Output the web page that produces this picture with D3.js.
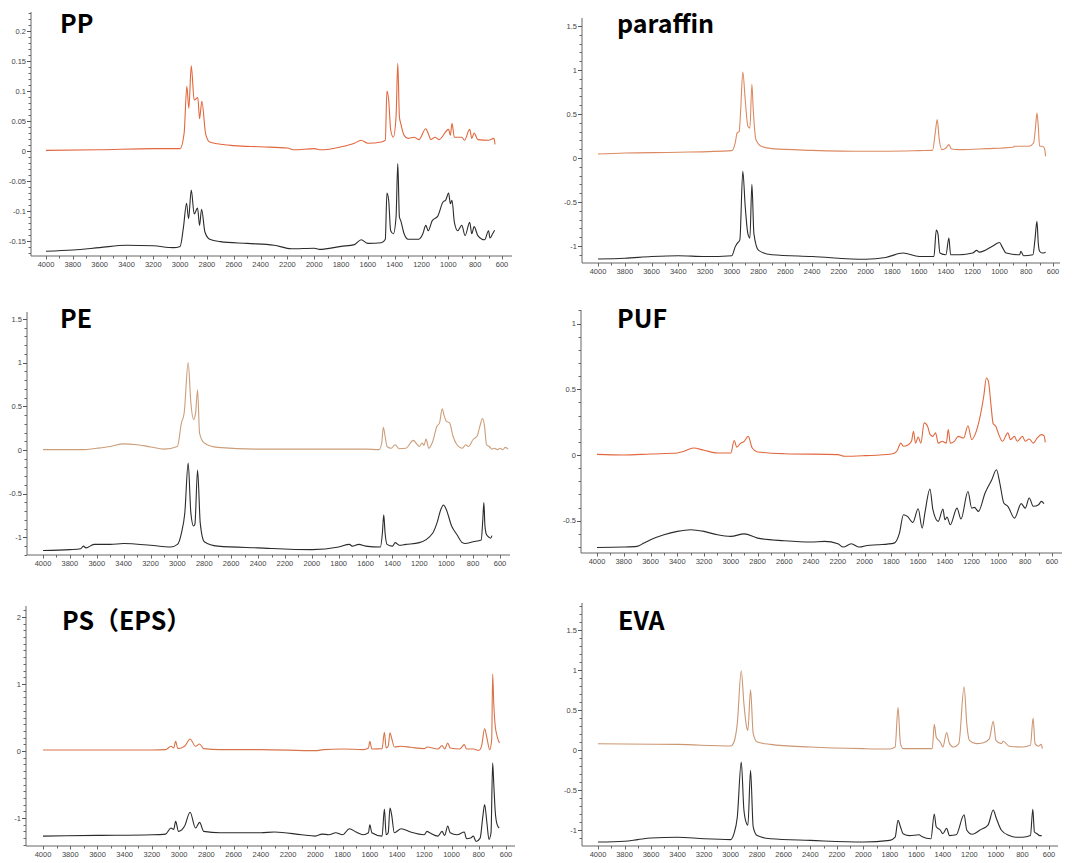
<!DOCTYPE html>
<html>
<head>
<meta charset="utf-8">
<script src="https://cdn.jsdelivr.net/npm/d3@7"></script>
<style>
  body { margin: 0; background: #fff; }
  svg { display: block; }
  .tick-label { font-family: "Liberation Sans", Arial, sans-serif; font-size: 7.5px; fill: #444; }
  .title { font-family: "Noto Sans CJK SC", "Noto Sans", sans-serif; font-weight: bold; font-size: 25px; fill: #000; }
</style>
</head>
<body>
<svg id="chart" width="1084" height="863"></svg>
<script>
// spectra: [wavenumber cm-1, absorbance]
var ppRef = [[4000,0.001],[3600,0.002],[3200,0.004],[3000,0.004],[2970,0.03],[2950,0.108],[2935,0.071],[2917,0.142],[2895,0.085],[2868,0.089],[2855,0.054],[2838,0.083],[2810,0.029],[2780,0.015],[2720,0.012],[2600,0.009],[2400,0.007],[2200,0.005],[2150,0.002],[2000,0.004],[1950,0.002],[1800,0.007],[1700,0.013],[1650,0.018],[1600,0.013],[1500,0.015],[1470,0.018],[1458,0.100],[1445,0.085],[1430,0.035],[1410,0.023],[1390,0.057],[1377,0.146],[1365,0.057],[1355,0.046],[1330,0.026],[1300,0.021],[1255,0.023],[1220,0.019],[1168,0.037],[1150,0.029],[1130,0.019],[1100,0.023],[1070,0.019],[998,0.036],[985,0.026],[973,0.046],[955,0.023],[900,0.023],[880,0.018],[841,0.036],[825,0.021],[808,0.030],[780,0.019],[700,0.018],[660,0.021],[652,0.011]];
var ppSample = [[4000,-0.167],[3800,-0.165],[3600,-0.161],[3400,-0.157],[3200,-0.158],[3050,-0.161],[3000,-0.159],[2975,-0.127],[2952,-0.087],[2937,-0.113],[2917,-0.065],[2895,-0.105],[2870,-0.095],[2855,-0.124],[2840,-0.097],[2815,-0.135],[2780,-0.147],[2700,-0.151],[2500,-0.154],[2300,-0.157],[2170,-0.163],[2000,-0.162],[1960,-0.164],[1800,-0.159],[1700,-0.156],[1650,-0.148],[1600,-0.154],[1500,-0.153],[1470,-0.147],[1458,-0.070],[1445,-0.082],[1430,-0.133],[1410,-0.138],[1390,-0.110],[1377,-0.021],[1365,-0.110],[1355,-0.116],[1330,-0.138],[1300,-0.147],[1260,-0.147],[1220,-0.147],[1190,-0.138],[1168,-0.124],[1150,-0.133],[1120,-0.116],[1080,-0.109],[1040,-0.085],[1020,-0.082],[998,-0.070],[985,-0.088],[973,-0.082],[955,-0.119],[930,-0.133],[900,-0.124],[875,-0.141],[841,-0.119],[825,-0.138],[808,-0.126],[780,-0.141],[730,-0.148],[700,-0.133],[690,-0.145],[670,-0.138],[655,-0.132]];

var paraffinRef = [[4000,0.046],[3800,0.057],[3400,0.065],[3000,0.084],[2975,0.17],[2960,0.285],[2945,0.30],[2935,0.51],[2918,0.977],[2900,0.665],[2880,0.36],[2865,0.34],[2850,0.837],[2840,0.55],[2820,0.21],[2780,0.133],[2700,0.106],[2400,0.087],[2000,0.076],[1600,0.084],[1500,0.087],[1480,0.285],[1465,0.437],[1450,0.21],[1430,0.095],[1400,0.114],[1377,0.152],[1360,0.103],[1300,0.095],[1100,0.106],[900,0.122],[890,0.133],[780,0.133],[745,0.171],[730,0.36],[720,0.51],[710,0.36],[700,0.133],[680,0.133],[665,0.114],[655,0.019]];
var paraffinSample = [[4000,-1.148],[3800,-1.14],[3600,-1.12],[3400,-1.11],[3200,-1.12],[3000,-1.11],[2975,-1.01],[2960,-0.97],[2940,-0.93],[2918,-0.15],[2900,-0.55],[2880,-0.86],[2865,-0.91],[2850,-0.30],[2835,-0.86],[2800,-1.05],[2700,-1.10],[2400,-1.12],[2000,-1.15],[1850,-1.13],[1720,-1.08],[1600,-1.12],[1490,-1.12],[1472,-0.82],[1460,-0.86],[1445,-1.08],[1400,-1.10],[1378,-0.91],[1365,-1.10],[1300,-1.10],[1200,-1.08],[1170,-1.05],[1150,-1.07],[1050,-1.00],[1000,-0.96],[980,-1.01],[950,-1.08],[850,-1.10],[840,-1.06],[820,-1.11],[750,-1.10],[735,-0.93],[720,-0.72],[710,-0.97],[700,-1.06],[680,-1.08],[655,-1.07]];

var peRef = [[4000,0.004],[3700,0.004],[3600,0.02],[3500,0.04],[3400,0.07],[3300,0.06],[3200,0.035],[3100,0.01],[3000,0.04],[2970,0.31],[2950,0.42],[2920,1.0],[2900,0.54],[2880,0.35],[2865,0.42],[2850,0.69],[2835,0.19],[2800,0.08],[2700,0.03],[2400,0.01],[1900,0.01],[1600,0.01],[1500,0.004],[1480,0.08],[1468,0.26],[1455,0.16],[1440,0.04],[1410,0.02],[1380,0.06],[1350,0.015],[1300,0.02],[1245,0.11],[1220,0.07],[1200,0.04],[1180,0.08],[1165,0.055],[1150,0.125],[1130,0.02],[1100,0.10],[1070,0.27],[1050,0.31],[1030,0.47],[1015,0.39],[1000,0.33],[975,0.31],[950,0.16],[920,0.06],[880,0.02],[855,0.06],[835,0.04],[800,0.12],[770,0.16],[750,0.27],[730,0.36],[715,0.27],[700,0.06],[680,0.04],[660,0.01],[640,0.02],[620,0.004],[600,0.02],[580,0.004],[560,0.03],[540,0.01]];
var peSample = [[4000,-1.15],[3800,-1.14],[3720,-1.13],[3700,-1.10],[3680,-1.12],[3620,-1.08],[3500,-1.08],[3400,-1.07],[3200,-1.09],[3050,-1.11],[3000,-1.08],[2970,-0.95],[2945,-0.72],[2920,-0.15],[2900,-0.72],[2880,-0.87],[2870,-0.85],[2850,-0.23],[2830,-0.84],[2800,-1.05],[2700,-1.10],[2400,-1.12],[2000,-1.14],[1800,-1.11],[1720,-1.08],[1700,-1.10],[1650,-1.08],[1600,-1.10],[1490,-1.11],[1475,-0.95],[1465,-0.74],[1455,-0.95],[1440,-1.08],[1400,-1.10],[1380,-1.06],[1350,-1.09],[1300,-1.08],[1200,-1.06],[1100,-0.95],[1070,-0.84],[1040,-0.68],[1020,-0.63],[1000,-0.68],[960,-0.87],[920,-0.97],[880,-1.06],[860,-1.07],[800,-1.05],[740,-1.03],[728,-0.80],[720,-0.60],[712,-0.87],[700,-0.97],[680,-1.00],[670,-1.01],[660,-0.98]];

var pufRef = [[4000,0.005],[3800,0],[3600,0.008],[3400,0.015],[3350,0.028],[3280,0.053],[3200,0.036],[3100,0.015],[3000,0.015],[2975,0.11],[2955,0.06],[2930,0.086],[2900,0.104],[2870,0.142],[2840,0.053],[2800,0.023],[2600,0.01],[2200,0.003],[2150,-0.01],[2000,-0.005],[1800,0.008],[1760,0.028],[1730,0.09],[1710,0.066],[1680,0.074],[1650,0.104],[1635,0.18],[1620,0.09],[1600,0.137],[1580,0.09],[1555,0.244],[1530,0.218],[1510,0.155],[1490,0.142],[1470,0.168],[1450,0.09],[1420,0.104],[1390,0.09],[1375,0.193],[1360,0.09],[1330,0.104],[1300,0.142],[1260,0.129],[1228,0.223],[1200,0.117],[1170,0.168],[1140,0.28],[1110,0.447],[1090,0.586],[1075,0.56],[1055,0.37],[1040,0.24],[1020,0.218],[1000,0.162],[970,0.104],[930,0.168],[910,0.117],[880,0.142],[860,0.104],[820,0.142],[800,0.104],[770,0.122],[740,0.09],[710,0.13],[680,0.155],[660,0.147],[650,0.096]];
var pufSample = [[4000,-0.703],[3800,-0.70],[3700,-0.695],[3650,-0.67],[3600,-0.645],[3500,-0.607],[3400,-0.581],[3300,-0.568],[3200,-0.581],[3100,-0.607],[3000,-0.619],[2900,-0.60],[2800,-0.632],[2600,-0.652],[2400,-0.662],[2300,-0.657],[2200,-0.675],[2160,-0.70],[2100,-0.675],[2040,-0.70],[1980,-0.688],[1900,-0.683],[1780,-0.67],[1740,-0.594],[1710,-0.454],[1680,-0.467],[1640,-0.513],[1600,-0.409],[1570,-0.556],[1550,-0.442],[1512,-0.259],[1490,-0.416],[1450,-0.505],[1415,-0.411],[1400,-0.492],[1385,-0.472],[1360,-0.53],[1310,-0.404],[1280,-0.487],[1228,-0.277],[1200,-0.404],[1180,-0.398],[1150,-0.429],[1100,-0.289],[1050,-0.188],[1015,-0.112],[990,-0.213],[960,-0.365],[930,-0.39],[880,-0.48],[830,-0.37],[800,-0.404],[770,-0.327],[740,-0.39],[700,-0.378],[680,-0.353],[660,-0.37]];

var psRef = [[4000,0.015],[3600,0.015],[3200,0.015],[3100,0.02],[3060,0.07],[3040,0.045],[3026,0.144],[3010,0.035],[2960,0.07],[2920,0.18],[2880,0.07],[2850,0.105],[2820,0.035],[2700,0.02],[2400,0.02],[2000,0.005],[1940,0.02],[1800,0.03],[1650,0.02],[1610,0.045],[1600,0.144],[1585,0.03],[1510,0.035],[1493,0.28],[1480,0.045],[1465,0.07],[1452,0.27],[1440,0.194],[1420,0.06],[1370,0.07],[1300,0.055],[1200,0.035],[1180,0.06],[1100,0.03],[1070,0.08],[1050,0.03],[1028,0.12],[1010,0.045],[940,0.03],[906,0.095],[890,0.03],[840,0.03],[800,0.01],[780,0.07],[757,0.33],[740,0.194],[720,0.02],[705,0.17],[698,1.15],[690,0.72],[680,0.39],[665,0.22],[648,0.12]];
var psSample = [[4000,-1.27],[3600,-1.26],[3200,-1.25],[3100,-1.24],[3060,-1.15],[3040,-1.17],[3026,-1.05],[3005,-1.20],[2960,-1.12],[2920,-0.915],[2880,-1.15],[2850,-1.065],[2820,-1.20],[2700,-1.22],[2400,-1.22],[2300,-1.21],[2100,-1.25],[2000,-1.27],[1950,-1.24],[1900,-1.25],[1850,-1.22],[1800,-1.25],[1750,-1.16],[1700,-1.21],[1650,-1.25],[1610,-1.22],[1600,-1.10],[1585,-1.22],[1510,-1.27],[1493,-0.866],[1480,-1.25],[1465,-1.22],[1452,-0.85],[1440,-0.95],[1420,-1.22],[1370,-1.16],[1300,-1.21],[1200,-1.25],[1180,-1.20],[1160,-1.22],[1100,-1.27],[1070,-1.20],[1050,-1.26],[1028,-1.12],[1010,-1.22],[960,-1.25],[906,-1.21],[890,-1.31],[860,-1.30],[840,-1.27],[820,-1.35],[790,-1.30],[770,-0.975],[757,-0.80],[740,-1.075],[725,-1.32],[710,-1.22],[698,-0.18],[690,-0.48],[680,-0.876],[665,-1.10],[650,-1.15]];

var evaRef = [[4000,0.079],[3800,0.075],[3400,0.07],[3000,0.05],[2975,0.10],[2950,0.33],[2920,0.99],[2900,0.58],[2880,0.29],[2870,0.246],[2850,0.754],[2830,0.204],[2800,0.10],[2700,0.07],[2400,0.0375],[2000,0.017],[1800,0.0125],[1760,0.0375],[1738,0.53],[1720,0.08],[1700,0.017],[1480,0.017],[1465,0.32],[1450,0.16],[1420,0.10],[1400,0.0375],[1372,0.217],[1350,0.08],[1320,0.0375],[1280,0.08],[1240,0.79],[1220,0.33],[1200,0.12],[1150,0.08],[1100,0.0875],[1050,0.14],[1020,0.36],[1000,0.12],[960,0.08],[945,0.11],[900,0.046],[800,0.0375],[740,0.058],[720,0.40],[705,0.08],[680,0.046],[660,0.07],[650,0.017]];
var evaSample = [[4000,-1.15],[3800,-1.14],[3700,-1.12],[3600,-1.10],[3400,-1.09],[3200,-1.11],[3000,-1.12],[2975,-1.046],[2950,-0.84],[2920,-0.15],[2900,-0.75],[2880,-0.92],[2870,-0.94],[2850,-0.254],[2830,-0.96],[2800,-1.07],[2700,-1.11],[2400,-1.13],[2000,-1.15],[1800,-1.13],[1760,-1.09],[1738,-0.88],[1720,-0.96],[1700,-1.046],[1650,-1.07],[1580,-1.06],[1560,-1.08],[1490,-1.11],[1465,-0.80],[1450,-0.96],[1420,-1.00],[1400,-1.046],[1372,-0.98],[1350,-1.07],[1300,-1.06],[1240,-0.81],[1220,-1.00],[1180,-1.054],[1120,-1.00],[1060,-0.94],[1020,-0.75],[1000,-0.84],[960,-1.00],[900,-1.07],[850,-1.09],[800,-1.09],[740,-1.07],[722,-0.74],[710,-1.025],[690,-1.046],[670,-1.07],[655,-1.07]];

var titles = ["PP", "paraffin", "PE", "PUF", "PS（EPS）", "EVA"];
var xTicks = d3.range(4000, 599, -200);
var xMinorTicks = d3.range(4000, 499, -100);
var ppTicks = [-0.15, -0.1, -0.05, 0, 0.05, 0.1, 0.15, 0.2];
var paraffinTicks = [-1, -0.5, 0, 0.5, 1, 1.5];
var peTicks = [-1, -0.5, 0, 0.5, 1, 1.5];
var pufTicks = [-0.5, 0, 0.5, 1];
var psTicks = [-1, 0, 1, 2];
var evaTicks = [-1, -0.5, 0, 0.5, 1, 1.5];

// panel frames, in page pixels
var panels = [
  { title: titles[0], ref: ppRef, sample: ppSample, ticks: ppTicks, minor: 0.01, refColor: '#e2673d',
    axisX: 31, top: 12, bottom: 256, x4000: 46, x600: 502, right: 512, zero: 151, unit: 600, tx: 60, ty: 33 },
  { title: titles[1], ref: paraffinRef, sample: paraffinSample, ticks: paraffinTicks, minor: 0.1, refColor: '#dc8a62',
    axisX: 582, top: 18, bottom: 263, x4000: 598, x600: 1053, right: 1060, zero: 158, unit: 88, tx: 617, ty: 33 },
  { title: titles[2], ref: peRef, sample: peSample, ticks: peTicks, minor: 0.1, refColor: '#cc9e7a',
    axisX: 27, top: 312, bottom: 555, x4000: 43, x600: 500, right: 510, zero: 450, unit: 87.4, tx: 60, ty: 328 },
  { title: titles[3], ref: pufRef, sample: pufSample, ticks: pufTicks, minor: 0.1, refColor: '#e0683e',
    axisX: 581, top: 310, bottom: 553, x4000: 597, x600: 1052, right: 1062, zero: 455, unit: 131.5, tx: 617, ty: 328 },
  { title: titles[4], ref: psRef, sample: psSample, ticks: psTicks, minor: 0.1, refColor: '#d8744a',
    axisX: 26, top: 606, bottom: 846, x4000: 43, x600: 506, right: 515, zero: 751, unit: 67, tx: 62, ty: 630 },
  { title: titles[5], ref: evaRef, sample: evaSample, ticks: evaTicks, minor: 0.1, refColor: '#cc9672',
    axisX: 582, top: 603, bottom: 846, x4000: 598, x600: 1049, right: 1058, zero: 750, unit: 80, tx: 618, ty: 630 }
];

var svg = d3.select('#chart');

function drawPanel(p) {
  var g = svg.append('g');
  var x = d3.scaleLinear().domain([4000, 600]).range([p.x4000, p.x600]);
  var y = d3.scaleLinear()
    .domain([-(p.bottom - p.zero) / p.unit, (p.zero - p.top) / p.unit])
    .range([p.bottom, p.top]);

  // y axis
  g.append('line').attr('x1', p.axisX).attr('x2', p.axisX).attr('y1', p.top).attr('y2', p.bottom)
    .attr('stroke', '#666').attr('stroke-width', 1);
  var ext = y.domain();
  var minors = d3.range(Math.ceil(ext[0] / p.minor) * p.minor, ext[1], p.minor);
  g.selectAll('.ymin').data(minors).join('line')
    .attr('x1', p.axisX - 2.5).attr('x2', p.axisX)
    .attr('y1', function(d) { return Math.round(y(d)) + 0.5; })
    .attr('y2', function(d) { return Math.round(y(d)) + 0.5; })
    .attr('stroke', '#666').attr('stroke-width', 1);
  g.selectAll('.ymaj').data(p.ticks).join('line')
    .attr('x1', p.axisX - 4).attr('x2', p.axisX)
    .attr('y1', function(d) { return Math.round(y(d)) + 0.5; })
    .attr('y2', function(d) { return Math.round(y(d)) + 0.5; })
    .attr('stroke', '#555').attr('stroke-width', 1);
  g.selectAll('.ylab').data(p.ticks).join('text')
    .attr('class', 'tick-label')
    .attr('x', p.axisX - 5).attr('y', function(d) { return y(d) + 2.7; })
    .attr('text-anchor', 'end')
    .text(function(d) { return String(d); });

  // x axis
  g.append('line').attr('x1', p.axisX).attr('x2', p.right).attr('y1', p.bottom).attr('y2', p.bottom)
    .attr('stroke', '#666').attr('stroke-width', 1);
  var xmin = xMinorTicks.filter(function(d) { return x(d) <= p.right; });
  g.selectAll('.xmin').data(xmin).join('line')
    .attr('x1', function(d) { return Math.round(x(d)) + 0.5; })
    .attr('x2', function(d) { return Math.round(x(d)) + 0.5; })
    .attr('y1', p.bottom).attr('y2', function(d) { return d % 200 === 0 ? p.bottom + 3.5 : p.bottom + 2.5; })
    .attr('stroke', '#666').attr('stroke-width', 1);
  g.selectAll('.xlab').data(xTicks).join('text')
    .attr('class', 'tick-label')
    .attr('x', function(d) { return x(d); }).attr('y', p.bottom + 11)
    .attr('text-anchor', 'middle')
    .text(function(d) { return d; });

  var line = d3.line()
    .x(function(d) { return x(d[0]); })
    .y(function(d) { return y(d[1]); })
    .curve(d3.curveMonotoneX);

  g.append('path').datum(p.ref).attr('d', line)
    .attr('fill', 'none').attr('stroke', p.refColor).attr('stroke-width', 1.1);
  g.append('path').datum(p.sample).attr('d', line)
    .attr('fill', 'none').attr('stroke', '#2b2b2b').attr('stroke-width', 1.1);

  g.append('text').attr('class', 'title').attr('x', p.tx).attr('y', p.ty).text(p.title);
}

panels.forEach(drawPanel);
</script>
</body>
</html>
